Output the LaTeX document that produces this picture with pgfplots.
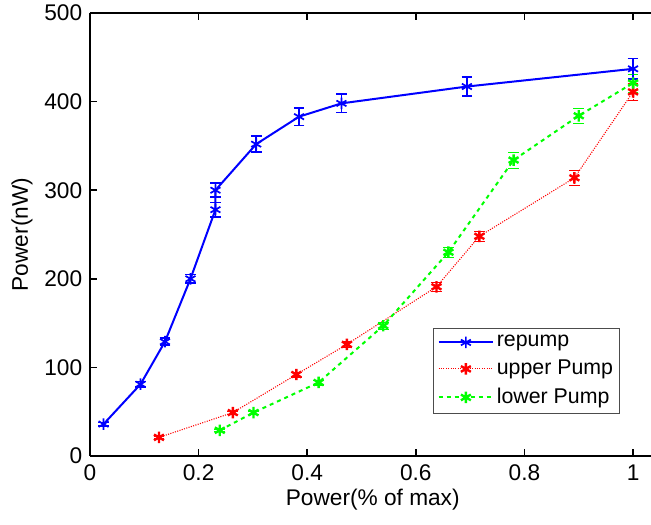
\documentclass[border=0pt]{standalone}
\usepackage{fontspec}
\setmainfont{Liberation Sans}
\usepackage{pgfplots}
\usepackage{pgfplotstable}
\pgfplotsset{compat=1.18}
\newcommand\chartfont{\fontsize{17pt}{20pt}\selectfont}
\newcommand\legfont{\fontsize{16pt}{19pt}\selectfont}

\pgfplotstableread{
x      y    e
0.025  36   2
0.093  81   3
0.138  129  4
0.185  200  5
0.231  278  8
0.231  300  8
0.306  352  9
0.385  383  10
0.463  398  10.5
0.694  417  11
1.000  437  11.5
}\tabRepump

\pgfplotstableread{
x      y    e
0.127  21   1
0.263  49   2
0.380  92   3
0.473  126  3
0.638  191  5
0.717  248  6
0.892  314  8
1.000  411  10
}\tabUpper

\pgfplotstableread{
x      y    e
0.239  29   1
0.301  49   2
0.421  83   3
0.540  147  4
0.660  230  6
0.780  334  9
0.900  384  9
1.000  421  10
}\tabLower

\begin{document}
\chartfont
\begin{tikzpicture}
\begin{axis}[
  scale only axis, width=420.75pt, height=332.25pt,
  xmin=0, xmax=1.033, ymin=0, ymax=500,
  axis x line=box, axis y line=left,
  axis line style={line width=1.2pt, -},
  tick align=inside, major tick length=5pt,
  tick style={line width=1.2pt, black},
  xtick={0,0.2,0.4,0.6,0.8,1}, ytick={0,100,...,500},
  xticklabels={0,0.2,0.4,0.6,0.8,1},
  tick label style={font=\chartfont},
  xticklabel style={yshift=-1pt},
  label style={font=\chartfont},
  /pgf/number format/assume math mode=true,
  xlabel={Power(\% of max)}, ylabel={Power(nW)},
  xlabel style={at={(rel axis cs:0.504,-0.0993)}, anchor=center},
  ylabel style={at={(rel axis cs:-0.121,0.5)}, anchor=center, rotate=0},
  legend style={at={(rel axis cs:0.945,0.095)}, anchor=south east,
    draw=black!70, line width=0.6pt, fill=white, inner sep=3pt,
    row sep=3.5pt, font=\legfont},
  legend cell align=left,
  legend image code/.code={
    \draw[mark repeat=2, mark phase=2, #1]
      plot coordinates {(0cm,0cm) (0.72cm,0cm) (1.44cm,0cm)};},
  clip=false,
]
\addplot[blue, line width=1.5pt, mark=asterisk, mark size=4.3pt,
  mark options={solid, line width=1.3pt},
  error bars/.cd, y dir=both, y explicit,
  error bar style={line width=1.2pt, blue}, error mark options={rotate=90, mark size=4pt, line width=1.2pt, blue}]
  table[x=x, y=y, y error=e] {\tabRepump};
\addlegendentry{repump}
\addplot[red, line width=0.8pt, densely dotted, mark=asterisk, mark size=4.3pt,
  mark options={solid, line width=1.8pt},
  error bars/.cd, y dir=both, y explicit,
  error bar style={line width=0.8pt, red, densely dotted}, error mark options={rotate=90, mark size=4pt, red}]
  table[x=x, y=y, y error=e] {\tabUpper};
\addlegendentry{upper Pump}
\addplot[green, line width=1.5pt, dashed, mark=asterisk, mark size=4.3pt,
  mark options={solid, line width=1.8pt},
  error bars/.cd, y dir=both, y explicit,
  error bar style={line width=1.2pt, green, dashed}, error mark options={rotate=90, mark size=4pt, green}]
  table[x=x, y=y, y error=e] {\tabLower};
\addlegendentry{lower Pump}
\end{axis}
\pgfresetboundingbox
\path[use as bounding box] (-67.5pt,-51.75pt) rectangle (420.75pt,342pt);
\end{tikzpicture}
\end{document}
